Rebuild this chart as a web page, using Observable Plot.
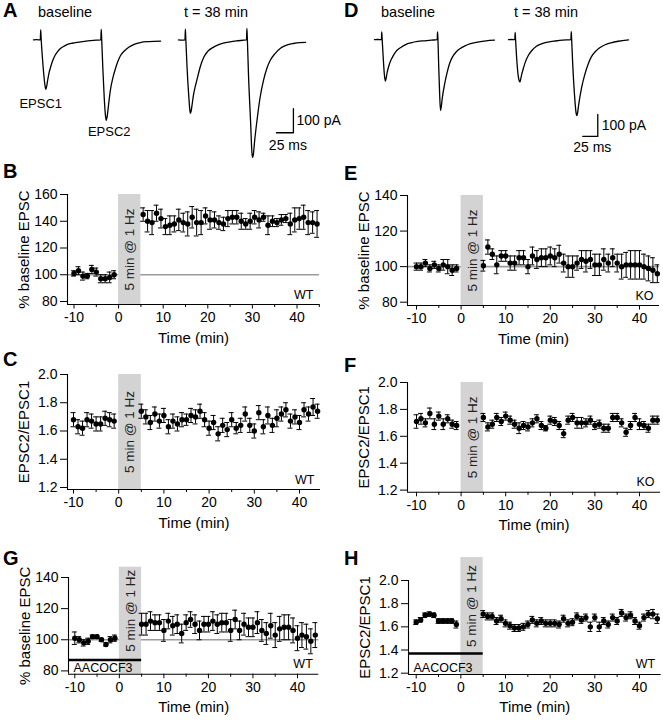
<!DOCTYPE html>
<html>
<head>
<meta charset="utf-8">
<script src="https://cdn.jsdelivr.net/npm/d3@7"></script>
<script src="https://cdn.jsdelivr.net/npm/@observablehq/plot@0.6"></script>
<style>
  html, body { margin: 0; padding: 0; background: #fff; }
  #fig { position: relative; width: 663px; height: 720px; overflow: hidden; background: #fff;
         font-family: "Liberation Sans", Arial, sans-serif; }
  #fig svg { position: absolute; overflow: visible; }
</style>
</head>
<body>
<div id="fig"></div>
<script>
// ================= DATA =================
// Example current traces: [time (ms), current (pA)]
const traceA_baseline = [[0,0],[5,1],[10,0],[10.6,42],[11.2,8],[13,-70],[15,-140],[17,-192],[18,-206],[19,-198],[21,-165],[23,-135],[25,-115],[28,-88],[32,-63],[36,-47],[40,-35],[45,-26],[50,-19],[57,-14],[65,-10],[75,-6],[84,-3],[92,-1],[99,0],[99.6,44],[100.2,8],[102,-120],[104,-240],[106,-320],[107,-335],[108,-325],[110,-280],[113,-210],[117,-155],[121,-115],[124,-90],[128,-65],[134,-45],[140,-31],[148,-19],[157,-11],[170,-7],[187,-5]];
const traceA_t38 = [[0,0],[5,-1],[9.5,0],[10.1,45],[10.7,8],[12.5,-110],[15,-230],[17,-300],[17.6,-306],[18.5,-298],[20,-270],[22,-230],[25,-190],[28,-156],[32,-112],[37,-73],[43,-48],[51,-31],[60,-19],[72,-10],[85,-4],[100,0],[100.6,48],[101.2,8],[103,-150],[106,-340],[108,-470],[109,-490],[110,-480],[112,-420],[116,-323],[120,-240],[125,-169],[130,-118],[135,-85],[142,-57],[150,-35],[159,-22],[169,-15],[178,-11],[187,-10]];
const traceD_baseline = [[0,0],[6,1],[11.5,0],[12.1,35],[12.7,5],[14.5,-80],[16.5,-160],[18,-188],[19,-180],[21,-150],[25,-109],[29,-84],[33,-64],[38,-47],[44.5,-34],[52,-22],[61,-14],[72,-8],[83,-5],[95,-2],[104.5,0],[105.1,35],[105.7,5],[107,-120],[108.5,-240],[110,-322],[111,-310],[113,-265],[117,-200],[121,-150],[125,-109],[130,-78],[136,-56],[143,-40],[150,-29],[160,-18],[172,-11],[186,-5],[200,-2]];
const traceD_t38 = [[0,0],[6,1],[10.5,0],[11.1,33],[11.7,5],[13.5,-80],[16,-160],[18.3,-190],[19,-192],[20,-184],[22,-158],[25,-128],[28,-102],[33,-72],[39,-49],[46,-31],[56,-18],[66,-11],[78,-6],[90,-2],[104,0],[104.6,37],[105.2,5],[107,-110],[110,-250],[112.5,-330],[114,-345],[115,-335],[117,-295],[122,-216],[127,-160],[133,-109],[138,-78],[144,-56],[152,-37],[161,-23],[171,-14],[183,-7],[200,-1]];
const sweepLabels = ["baseline", "t = 38 min"];
const peakLabels = ["EPSC1", "EPSC2"];
const scaleBar = {ms: 25, pA: 100};

// Time (min)
const minutesBaseline = [-10,-9,-8,-7,-6,-5,-4,-3,-2,-1];
const minutesPost = [5,6,7,8,9,10,11,12,13,14,15,16,17,18,19,20,21,22,23,24,25,26,27,28,29,30,31,32,33,34,35,36,37,38,39,40,41,42,43,44];
const minutesPostB = [5.5,6.5,7.5,8.5,9.5,10.5,11.5,12.5,13.5,14.5,15.5,16.5,17.5,18.5,19.5,20.5,21.5,22.5,23.5,24.5,25.5,26.5,27.5,28.5,29.5,30.5,31.5,32.5,33.5,34.5,35.5,36.5,37.5,38.5,39.5,40.5,41.5,42.5,43.5,44.5];
const stim = [0, 5];
const stimLabel = "5 min @ 1 Hz";
const majorTicks = [-10,0,10,20,30,40];
const minorTicks = [-5,5,15,25,35,45];
const pctTicks = [80,100,120,140,160];
const pctTicks140 = [80,100,120,140];
const ratioTicks = [1.2,1.4,1.6,1.8,2.0];

// B: % baseline EPSC, WT
const B_base = [101,103,99,99,104,102,97,97,98,100];
const B_baseErr = [2,3,3,2,3,3,3,3,4,3];
const B_post = [145,140,139,146,142,136,137,138,141,139,138,143,139,139,144,141,141,139,138,142,143,143,140,138,140,143,141,143,137,140,139,141,142,138,141,142,143,139,139,138];
const B_postErr = [5,8,9,6,7,6,7,6,8,7,9,8,10,9,6,7,6,5,5,6,5,5,6,4,6,5,6,3,7,4,3,4,3,8,9,8,9,9,8,10];
// C: EPSC2/EPSC1, WT
const C_base = [1.68,1.63,1.62,1.68,1.67,1.65,1.65,1.69,1.68,1.67];
const C_baseErr = [0.05,0.05,0.05,0.05,0.05,0.05,0.05,0.05,0.05,0.05];
const C_post = [1.74,1.70,1.66,1.72,1.67,1.71,1.63,1.67,1.65,1.68,1.68,1.71,1.70,1.74,1.68,1.62,1.66,1.58,1.64,1.61,1.68,1.62,1.64,1.72,1.64,1.60,1.73,1.63,1.71,1.64,1.69,1.72,1.75,1.67,1.70,1.66,1.75,1.72,1.77,1.74];
const C_postErr = [0.05,0.05,0.05,0.05,0.05,0.05,0.05,0.05,0.05,0.05,0.04,0.05,0.05,0.05,0.05,0.05,0.05,0.05,0.05,0.05,0.05,0.04,0.05,0.05,0.05,0.05,0.05,0.05,0.06,0.05,0.06,0.05,0.05,0.05,0.05,0.05,0.05,0.05,0.06,0.05];
// E: % baseline EPSC, KO
const E_base = [100,100,102,99,101,99,101,100,98,99];
const E_baseErr = [2,2,2,2,2,2,3,4,3,2];
const E_post = [100.5,111,107,101,106,106,102,102,105,105,100,106,104,105,105,106,105,107,102,100,100,102,104,103,104,101,101,104,102,105,102,100,101,101,101,101,100,99,98,96];
const E_postErr = [3,4,3,5,3,3,4,4,4,4,4,5,5,5,5,5,5,5,5,6,6,4,5,6,5,6,6,6,5,5,5,7,7,8,8,8,7,7,7,5];
// F: EPSC2/EPSC1, KO
const F_base = [1.71,1.73,1.70,1.77,1.69,1.75,1.69,1.73,1.69,1.68];
const F_baseErr = [0.05,0.04,0.03,0.04,0.04,0.03,0.04,0.03,0.03,0.03];
const F_post = [1.74,1.67,1.69,1.74,1.71,1.75,1.72,1.69,1.66,1.68,1.67,1.70,1.73,1.68,1.66,1.72,1.71,1.68,1.62,1.72,1.74,1.70,1.70,1.70,1.72,1.68,1.69,1.66,1.66,1.74,1.74,1.70,1.63,1.68,1.74,1.69,1.68,1.66,1.72,1.72];
const F_postErr = [0.03,0.03,0.03,0.03,0.03,0.03,0.03,0.03,0.04,0.03,0.03,0.03,0.03,0.03,0.02,0.03,0.03,0.03,0.03,0.03,0.03,0.04,0.04,0.03,0.03,0.03,0.03,0.03,0.03,0.03,0.03,0.03,0.03,0.03,0.03,0.04,0.03,0.03,0.03,0.03];
// G: % baseline EPSC, WT + AACOCF3
const G_base = [101,100,98,99,102,102,100,97,100,101];
const G_baseErr = [4,2,2,2,1,1,1,1,2,2];
const G_post = [110,110,112,111,111,106,112,109,110,104,111,113,110,106,110,110,112,110,111,111,106,113,106,110,108,108,111,106,104,109,103,107,108,108,106,101,103,102,99,103];
const G_postErr = [7,7,6,5,5,7,5,6,6,6,5,5,6,6,5,5,6,6,6,6,7,6,6,7,6,6,7,7,7,8,8,8,8,8,8,8,8,8,8,8];
// H: EPSC2/EPSC1, WT + AACOCF3
const H_base = [1.64,1.66,1.70,1.71,1.70,1.65,1.65,1.65,1.65,1.62];
const H_baseErr = [0.02,0.02,0.02,0.02,0.02,0.02,0.02,0.02,0.02,0.03];
const H_post = [1.71,1.69,1.69,1.65,1.67,1.63,1.61,1.59,1.59,1.60,1.62,1.66,1.63,1.65,1.63,1.63,1.63,1.62,1.67,1.63,1.64,1.69,1.66,1.68,1.60,1.68,1.60,1.65,1.62,1.68,1.65,1.72,1.68,1.70,1.65,1.61,1.68,1.71,1.71,1.67];
const H_postErr = [0.03,0.03,0.03,0.03,0.03,0.03,0.03,0.03,0.03,0.03,0.03,0.03,0.03,0.03,0.03,0.03,0.03,0.03,0.03,0.03,0.03,0.03,0.03,0.03,0.04,0.03,0.04,0.03,0.03,0.03,0.03,0.03,0.03,0.03,0.03,0.03,0.03,0.03,0.04,0.04];
const drugLabel = "AACOCF3";

// ================= RENDERING =================
const FONT = '"Liberation Sans", Arial, sans-serif';
const fig = document.getElementById("fig");
const baseStyle = {fontFamily: FONT, fontSize: "14px", color: "black", background: "transparent", overflow: "visible"};
function place(svg, left, top) { svg.style.left = left + "px"; svg.style.top = top + "px"; svg.style.maxWidth = "none"; fig.appendChild(svg); }
const fmtMin = d => d < 0 ? "-" + (-d) : String(d);

// ---- traces ----
function tracePlot(data, c, extra = []) {
  const m = 45;
  const w = c.msMax * c.pxPerMs, h = (c.paMax - c.paMin) * c.pxPerPA;
  const svg = Plot.plot({
    width: w + 2 * m, height: h + 2 * m, margin: m,
    x: {domain: [0, c.msMax], axis: null},
    y: {domain: [c.paMin, c.paMax], axis: null},
    style: baseStyle,
    marks: [Plot.line(data, {x: d => d[0], y: d => d[1], curve: "monotone-x", stroke: "black", strokeWidth: 1.3}), ...extra]
  });
  place(svg, c.x0 - m, c.y0 - c.paMax * c.pxPerPA - m);
}
function peakMarks(data, offsets) {
  const half = d3.max(data, d => d[0]) / 2;
  const p1 = d3.least(data.filter(d => d[0] < half), d => d[1]);
  const p2 = d3.least(data.filter(d => d[0] >= half), d => d[1]);
  return [
    Plot.text([peakLabels[0]], {x: p1[0], y: p1[1], dx: offsets[0][0], dy: offsets[0][1], fontSize: 13}),
    Plot.text([peakLabels[1]], {x: p2[0], y: p2[1], dx: offsets[1][0], dy: offsets[1][1], fontSize: 13})
  ];
}
function scaleBarMarks(corner, lab) {
  const [cx, cy] = corner;
  const pts = [[cx - scaleBar.ms, cy], [cx, cy], [cx, cy + scaleBar.pA]];
  return [
    Plot.line(pts, {x: d => d[0], y: d => d[1], stroke: "black", strokeWidth: 1.3}),
    Plot.text([scaleBar.pA + " pA"], {x: cx, y: cy + scaleBar.pA / 2, dx: lab.pdx, textAnchor: "start", fontSize: 14}),
    Plot.text([scaleBar.ms + " ms"], {x: cx - scaleBar.ms / 2, y: cy, dx: lab.mdx, dy: lab.mdy, fontSize: 14})
  ];
}
const A = {pxPerMs: 0.68, pxPerPA: 0.24, msMax: 187, paMin: -520, paMax: 60, y0: 39.5};
tracePlot(traceA_baseline, {...A, x0: 33}, peakMarks(traceA_baseline, [[-5, 14], [3, 12]]));
tracePlot(traceA_t38, {...A, x0: 178}, scaleBarMarks([169, -387], {pdx: 3, mdx: 3, mdy: 13}));
const D = {pxPerMs: 0.6, pxPerPA: 0.22, msMax: 200, paMin: -470, paMax: 60, y0: 39.3};
tracePlot(traceD_baseline, {...D, x0: 374.3});
tracePlot(traceD_t38, {...D, x0: 507.7}, scaleBarMarks([148.8, -439.5], {pdx: 4, mdx: 2, mdy: 11}));

// ---- time courses ----
function series(minutes, values, errors) { return minutes.map((m, i) => ({t: m, v: values[i], e: errors[i]})); }
function tsPanel(p) {
  const L = p.layout;
  const kx = (L.px40 - L.pxm10) / 50;
  const xMin = -10 - (L.pxm10 - L.axisX) / kx;
  const xMax = -10 + (L.xEnd - L.pxm10) / kx;
  const ky = (L.pyLo - L.pyHi) / (L.tickHi - L.tickLo);
  const yMin = L.tickLo - (L.axisY - L.pyLo) / ky;
  const yMax = L.tickHi;
  const bandTop = L.bandTop != null ? L.tickHi + (L.pyHi - L.bandTop) / ky : yMax;
  const mL = 62, mR = 14, mT = 10, mB = 52;
  const w = L.xEnd - L.axisX, h = L.axisY - L.pyHi;
  const pts = [...series(minutesBaseline, p.base, p.baseErr), ...series(p.postMinutes, p.post, p.postErr)];
  const cap = 0.55;
  const marks = [];
  if (p.ref != null) marks.push(Plot.ruleY([p.ref], {stroke: "#9b9b9b", strokeWidth: 1.6}));
  marks.push(Plot.rect([{x1: stim[0], x2: stim[1], y1: yMin, y2: bandTop}], {x1: "x1", x2: "x2", y1: "y1", y2: "y2", fill: "#d3d3d3"}));
  marks.push(Plot.text([stimLabel], {x: (stim[0] + stim[1]) / 2, y: (yMin + bandTop) / 2, dy: L.bandTextDy || 0, rotate: -90, fontSize: 13.5, fill: "#222"}));
  if (p.drugLevel != null) {
    marks.push(Plot.ruleY([p.drugLevel], {x1: xMin, x2: stim[1], stroke: "black", strokeWidth: 2.6}));
    marks.push(Plot.text([drugLabel], {frameAnchor: "bottom-left", dx: 5, dy: -2, textAnchor: "start", lineAnchor: "bottom", fontSize: 12.5}));
  }
  marks.push(Plot.ruleX(pts, {x: "t", y1: d => d.v - d.e, y2: d => d.v + d.e, stroke: "black", strokeWidth: 1}));
  marks.push(Plot.ruleY(pts, {y: d => d.v + d.e, x1: d => d.t - cap, x2: d => d.t + cap, stroke: "black", strokeWidth: 1}));
  marks.push(Plot.ruleY(pts, {y: d => d.v - d.e, x1: d => d.t - cap, x2: d => d.t + cap, stroke: "black", strokeWidth: 1}));
  marks.push(Plot.dot(pts, {x: "t", y: "v", r: 2.7, fill: "black", stroke: "none"}));
  marks.push(Plot.ruleX([xMin], {stroke: "black", strokeWidth: 1.1}));
  marks.push(Plot.ruleY([yMin], {stroke: "black", strokeWidth: 1.1}));
  marks.push(Plot.axisY(p.yTicks, {tickSize: 7, tickPadding: 3, tickFormat: p.yFormat, label: null, fontSize: 14}));
  marks.push(Plot.axisX(minorTicks.filter(t => t <= xMax), {tickSize: 3, tickFormat: () => "", label: null}));
  marks.push(Plot.axisX(majorTicks, {tickSize: 4.5, tickPadding: 3, tickFormat: fmtMin, label: null, fontSize: 14}));
  marks.push(Plot.text(["Time (min)"], {frameAnchor: "bottom", dy: 38, fontSize: 15}));
  marks.push(Plot.text([p.yTitle], {frameAnchor: "left", dx: -43, rotate: -90, textAnchor: "middle", fontSize: 15}));
  marks.push(Plot.text([p.tag], {frameAnchor: "bottom-right", dx: -6, dy: -6, textAnchor: "end", lineAnchor: "bottom", fontSize: 12.5}));
  const svg = Plot.plot({
    width: w + mL + mR, height: h + mT + mB,
    marginLeft: mL, marginRight: mR, marginTop: mT, marginBottom: mB,
    x: {domain: [xMin, xMax]}, y: {domain: [yMin, yMax]},
    style: baseStyle, marks
  });
  place(svg, L.axisX - mL, L.pyHi - mT);
}
const pctTitle = "% baseline EPSC", ratioTitle = "EPSC2/EPSC1";
const f1 = d3.format(".1f"), f0 = d3.format("d");
tsPanel({layout: {axisX: 67, pxm10: 73.5, px40: 296.5, xEnd: 319, tickLo: 80, tickHi: 160, pyLo: 301, pyHi: 194, axisY: 304},
  base: B_base, baseErr: B_baseErr, post: B_post, postErr: B_postErr, postMinutes: minutesPostB,
  ref: 100, yTicks: pctTicks, yFormat: f0, yTitle: pctTitle, tag: "WT"});
tsPanel({layout: {axisX: 67, pxm10: 73, px40: 299, xEnd: 320, tickLo: 1.2, tickHi: 2.0, pyLo: 487, pyHi: 374, axisY: 489},
  base: C_base, baseErr: C_baseErr, post: C_post, postErr: C_postErr, postMinutes: minutesPost,
  yTicks: ratioTicks, yFormat: f1, yTitle: ratioTitle, tag: "WT"});
tsPanel({layout: {axisX: 407, pxm10: 416, px40: 639, xEnd: 659, tickLo: 80, tickHi: 140, pyLo: 301.7, pyHi: 195, axisY: 305},
  base: E_base, baseErr: E_baseErr, post: E_post, postErr: E_postErr, postMinutes: minutesPost,
  ref: 100, yTicks: pctTicks140, yFormat: f0, yTitle: pctTitle, tag: "KO"});
tsPanel({layout: {axisX: 407, pxm10: 416, px40: 639, xEnd: 660, tickLo: 1.2, tickHi: 2.0, pyLo: 489.3, pyHi: 381.7, axisY: 491.5},
  base: F_base, baseErr: F_baseErr, post: F_post, postErr: F_postErr, postMinutes: minutesPost,
  yTicks: ratioTicks, yFormat: f1, yTitle: ratioTitle, tag: "KO"});
tsPanel({layout: {axisX: 67.7, pxm10: 74, px40: 296.7, xEnd: 318, tickLo: 80, tickHi: 140, pyLo: 670.7, pyHi: 577.3, axisY: 674, bandTop: 567, bandTextDy: -10},
  base: G_base, baseErr: G_baseErr, post: G_post, postErr: G_postErr, postMinutes: minutesPost,
  ref: 100, drugLevel: 87, yTicks: pctTicks140, yFormat: f0, yTitle: pctTitle, tag: "WT"});
tsPanel({layout: {axisX: 408.3, pxm10: 416, px40: 639.3, xEnd: 661, tickLo: 1.2, tickHi: 2.0, pyLo: 672.7, pyHi: 580, axisY: 674, bandTop: 557, bandTextDy: -10},
  base: H_base, baseErr: H_baseErr, post: H_post, postErr: H_postErr, postMinutes: minutesPost,
  drugLevel: 1.37, yTicks: ratioTicks, yFormat: f1, yTitle: ratioTitle, tag: "WT"});

// ---- panel letters & sweep headers ----
const overlay = d3.create("svg").attr("width", 663).attr("height", 720)
  .style("left", "0px").style("top", "0px").style("pointer-events", "none").style("font-family", FONT);
const letters = [["A", 3, 17], ["D", 344, 17], ["B", 3, 178], ["E", 344, 180], ["C", 3, 366], ["F", 344, 372], ["G", 3, 565], ["H", 344, 565]];
for (const [t, x, y] of letters) overlay.append("text").attr("x", x).attr("y", y).attr("font-size", 20).attr("font-weight", "bold").text(t);
const headers = [[sweepLabels[0], 38, 17], [sweepLabels[1], 184, 17], [sweepLabels[0], 381, 17], [sweepLabels[1], 514, 17]];
for (const [t, x, y] of headers) overlay.append("text").attr("x", x).attr("y", y).attr("font-size", 14.5).text(t);
fig.appendChild(overlay.node());
</script>
</body>
</html>
